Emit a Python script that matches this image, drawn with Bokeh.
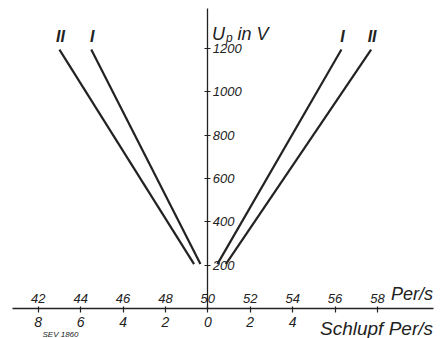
from bokeh.plotting import figure
from bokeh.models import LinearAxis, Range1d, FixedTicker, Label, ColumnDataSource
from bokeh.core.properties import value
from bokeh.embed import file_html
from bokeh.resources import INLINE

# ---- data ----
voltage_pts = [205, 1195]                 # U_p in V (line end points)
curve_I_left = [49.65, 44.5]             # Per/s
curve_II_left = [49.35, 43.0]
curve_I_right = [50.45, 56.3]
curve_II_right = [50.85, 57.7]
curve_names = ["II", "I", "I", "II"]

v_ticks = [200, 400, 600, 800, 1000, 1200]
f_ticks = [42, 44, 46, 48, 50, 52, 54, 56, 58]
slip_ticks = [42, 44, 46, 48, 50, 52, 54, 56, 58]
slip_labels = ["8", "6", "4", "2", "0", "2", "4", "", ""]

INK = "#222222"
FONT = "Liberation Sans"

p = figure(width=441, height=338,
           x_range=Range1d(40.22, 61.02), y_range=Range1d(-138.4, 1421.3),
           x_axis_type=None, y_axis_type=None,
           output_backend="svg", toolbar_location=None, min_border=0)
p.outline_line_color = None
p.background_fill_color = "white"
p.border_fill_color = "white"

def style_axis(ax, size="13px"):
    ax.axis_line_color = INK
    ax.axis_line_width = 1.3
    ax.major_tick_line_color = INK
    ax.major_tick_line_width = 1.2
    ax.minor_tick_line_color = None
    ax.major_label_text_font = FONT
    ax.major_label_text_font_style = "italic"
    ax.major_label_text_font_size = size
    ax.major_label_text_color = INK

# vertical voltage axis at 50 Per/s
yax = LinearAxis(fixed_location=50, ticker=FixedTicker(ticks=v_ticks), bounds=(0, 1384))
style_axis(yax)
yax.major_tick_in = 3
yax.major_tick_out = 3
yax.major_label_standoff = 2
p.add_layout(yax, "right")

# frequency axis (labels above)
xax_top = LinearAxis(fixed_location=0, ticker=FixedTicker(ticks=f_ticks), bounds=(40.8, 60.65))
style_axis(xax_top)
xax_top.major_tick_in = 0
xax_top.major_tick_out = 2
xax_top.major_label_standoff = 4
p.add_layout(xax_top, "above")

# slip axis (labels below)
xax_bot = LinearAxis(fixed_location=0, ticker=FixedTicker(ticks=slip_ticks),
                     major_label_overrides={t: s for t, s in zip(slip_ticks, slip_labels)})
style_axis(xax_bot, "14px")
xax_bot.axis_line_color = None
xax_bot.major_tick_in = 0
xax_bot.major_tick_out = 4
xax_bot.major_label_standoff = 4
p.add_layout(xax_bot, "below")

# curves
for xs in (curve_II_left, curve_I_left, curve_I_right, curve_II_right):
    p.line(xs, voltage_pts, line_width=2.2, line_color=INK)

# curve labels at top ends
top_x = [curve_II_left[1], curve_I_left[1], curve_I_right[1], curve_II_right[1]]
src = ColumnDataSource(dict(x=top_x, y=[voltage_pts[1]] * 4, t=curve_names))
p.text(x="x", y="y", text="t", source=src, text_align="center", text_baseline="bottom",
       x_offset=1, y_offset=-5,
       text_font=value(FONT), text_font_style="bold italic", text_font_size="16px",
       text_color=INK)

# axis titles
def lab(x, y, text, size, align="left", style="italic"):
    p.add_layout(Label(x=x, y=y, text=text, text_align=align, text_baseline="alphabetic",
                       text_font=FONT, text_font_style=style, text_font_size=size,
                       text_color=INK))

lab(50.2, 1269, "U", "18px")
lab(50.86, 1250, "p", "12px")
lab(51.4, 1269, "in V", "18px")
lab(60.62, 68, "Per/s", "18px", align="right")
lab(60.62, -93, "Schlupf Per/s", "19px", align="right")
lab(42.2, -118, "SEV 1860", "8px")

open("out.html", "w").write(file_html(p, INLINE))
